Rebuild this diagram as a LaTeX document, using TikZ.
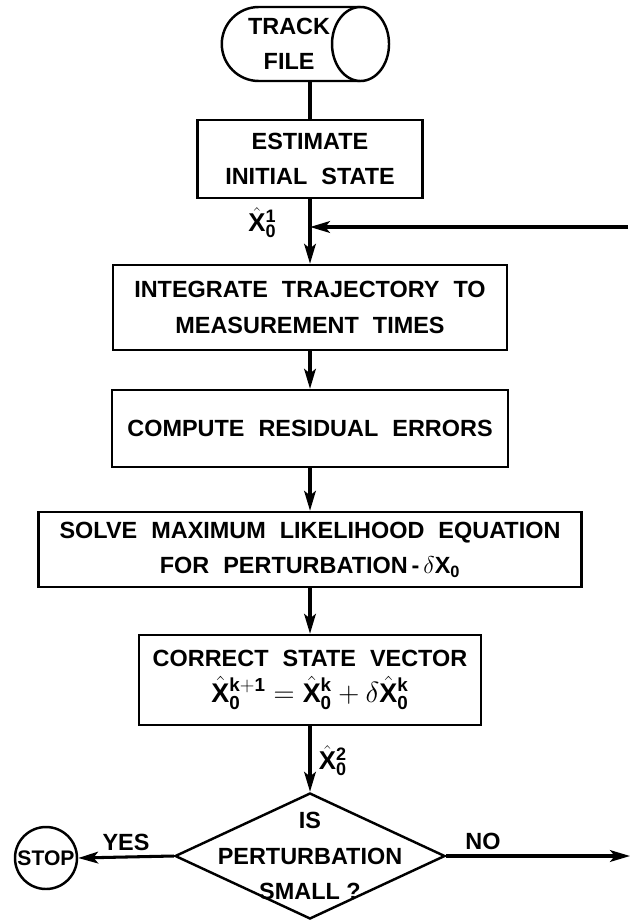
\documentclass[tikz,border=0pt]{standalone}
\usepackage{fontspec}
\setmainfont{Liberation Sans}
\usetikzlibrary{shapes.geometric, shapes.misc, arrows.meta}

\newcommand{\xhat}[1]{$\hat{\mathbf{X}}^{\mathbf{#1}}_{\mathbf{0}}$}
\newcommand{\wsp}{\hspace{.6em}}

\begin{document}
\begin{tikzpicture}[
  x=0.03cm, y=-0.03cm,
  font=\bfseries\fontsize{20}{30}\selectfont,
  stepbox/.style={
    draw, line width=2.1pt, fill=white,
    align=center, inner sep=3pt
  },
  trackbody/.style={
    draw, line width=2.1pt, fill=white, rounded rectangle,
    rounded rectangle right arc=none,
    minimum width=4.125cm, minimum height=2.22cm,
    align=center, inner sep=0pt
  },
  trackend/.style={
    draw, line width=2.1pt, fill=white, ellipse,
    minimum width=1.71cm, minimum height=2.22cm, inner sep=0pt
  },
  decision/.style={
    draw, line width=2.1pt, fill=white, diamond,
    minimum width=8.1cm, minimum height=3.78cm, inner sep=0pt
  },
  stopnode/.style={
    draw, line width=2.1pt, circle, minimum size=1.86cm, inner sep=0pt,
    font=\bfseries\fontsize{18}{22}\selectfont
  },
  flowarrow/.style={-{Stealth[length=17pt, width=10pt, inset=4pt]}, line width=2.6pt},
  flowline/.style={line width=2.6pt},
  symlabel/.style={font=\bfseries\fontsize{22}{26}\selectfont, inner sep=2pt}
]
\useasboundingbox (0,0) rectangle (630,920);

% ── Track file ───────────────────────────────────────────────
\node[trackbody] (track) at (295.75,44) {TRACK\hspace*{.4cm}\\FILE\hspace*{.4cm}};
\node[trackend] (trackcap) at (track.east) {};

% ── Process boxes ────────────────────────────────────────────
\node[stepbox, minimum width=6.75cm, minimum height=2.34cm] (estimate) at (310,159)
  {ESTIMATE\\INITIAL\wsp STATE};
\node[stepbox, minimum width=11.82cm, minimum height=2.55cm] (integrate) at (310,307.5)
  {INTEGRATE\wsp TRAJECTORY\wsp TO\\MEASUREMENT\wsp TIMES};
\node[stepbox, minimum width=11.88cm, minimum height=2.31cm] (compute) at (310,428.5)
  {COMPUTE\wsp RESIDUAL\wsp ERRORS};
\node[stepbox, minimum width=16.29cm, minimum height=2.25cm] (solve) at (310,549.5)
  {SOLVE\wsp MAXIMUM\wsp LIKELIHOOD\wsp EQUATION\\FOR\wsp PERTURBATION\,-\,$\delta\mathbf{X}_{\mathbf{0}}$};
\node[stepbox, minimum width=10.26cm, minimum height=2.7cm] (correct) at (310,680)
  {CORRECT\wsp STATE\wsp VECTOR\\
   \fontsize{23}{30}\selectfont
   $\hat{\mathbf{X}}^{\mathbf{k+1}}_{\mathbf{0}} = \hat{\mathbf{X}}^{\mathbf{k}}_{\mathbf{0}}
    + \delta\hat{\mathbf{X}}^{\mathbf{k}}_{\mathbf{0}}$};

% ── Decision and stop ────────────────────────────────────────
\node[decision, label={[align=center]center:IS\\PERTURBATION\\SMALL ?}] (small) at (310,856) {};
\node[stopnode] (stop) at (46,858) {STOP};

% ── Loose ends ───────────────────────────────────────────────
\coordinate (loopin) at (628,227);
\coordinate (noout) at (630,856);

% ── Flow ─────────────────────────────────────────────────────
\draw[flowline] (estimate.north) -- (estimate.north |- track.south);
\draw[flowarrow] (estimate.south) -- (integrate.north)
  node[symlabel, pos=0.36, left=0.9cm] {\xhat{1}};
\draw[flowarrow] (loopin) -- (loopin -| estimate.south);
\draw[flowarrow] (integrate.south) -- (compute.north);
\draw[flowarrow] (compute.south) -- (solve.north);
\draw[flowarrow] (solve.south) -- (correct.north);
\draw[flowarrow] (correct.south) -- (small.north)
  node[symlabel, pos=0.52, right=0.15cm] {\xhat{2}};
\draw[flowarrow] (small.west) -- (stop.east) node[midway, above=1pt] {YES};
\draw[flowarrow] (small.east) -- (noout) node[pos=0.2, above=1pt] {NO};

\end{tikzpicture}
\end{document}
